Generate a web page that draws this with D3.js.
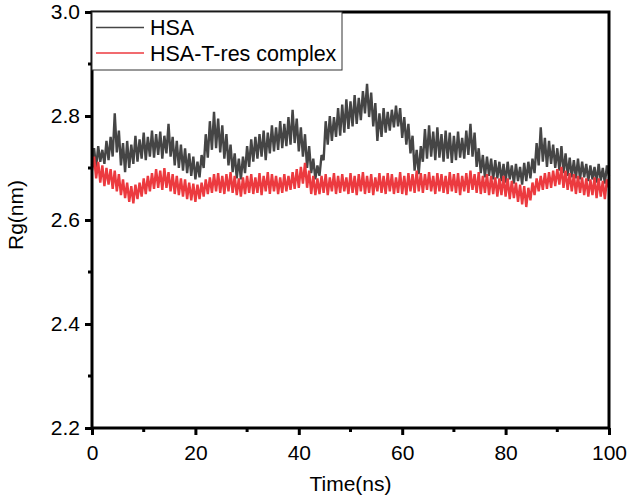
<!doctype html>
<html lang="en">
<head>
  <meta charset="utf-8">
  <title>Rg vs time</title>
<style>
 body{ margin: 0; background: #fff; }
 #chart{ width: 632px; height: 499px; }
 text{ font-family: "Liberation Sans", Arial, sans-serif; fill: #000; }
</style>
</head>
<body>
  <div id="chart"></div>
  <script src="https://d3js.org/d3.v7.min.js"></script>
  <script type="text/javascript">

    // sampling interval of the trajectories (ns)
    var timeStep = 0.4;

    var seriesNames = ['HSA', 'HSA-T-res complex'];

    // Rg (nm), one line = 4 ns
    var hsa = [
      2.705, 2.738, 2.700, 2.742, 2.712, 2.735, 2.708, 2.752, 2.715, 2.760,
      2.722, 2.805, 2.730, 2.772, 2.705, 2.748, 2.692, 2.752, 2.700, 2.745,
      2.708, 2.762, 2.712, 2.755, 2.718, 2.768, 2.715, 2.760, 2.722, 2.772,
      2.720, 2.765, 2.725, 2.770, 2.718, 2.762, 2.728, 2.785, 2.722, 2.760,
      2.705, 2.752, 2.700, 2.745, 2.695, 2.738, 2.690, 2.728, 2.685, 2.722,
      2.678, 2.712, 2.682, 2.725, 2.700, 2.765, 2.720, 2.790, 2.735, 2.808,
      2.738, 2.795, 2.730, 2.782, 2.718, 2.765, 2.705, 2.745, 2.692, 2.728,
      2.680, 2.718, 2.678, 2.722, 2.690, 2.742, 2.702, 2.755, 2.712, 2.760,
      2.718, 2.765, 2.722, 2.772, 2.715, 2.768, 2.728, 2.782, 2.732, 2.778,
      2.735, 2.790, 2.738, 2.785, 2.742, 2.798, 2.745, 2.812, 2.748, 2.795,
      2.732, 2.778, 2.722, 2.765, 2.700, 2.742, 2.690, 2.718, 2.678, 2.705,
      2.685, 2.725, 2.715, 2.790, 2.745, 2.800, 2.752, 2.798, 2.760, 2.815,
      2.762, 2.822, 2.768, 2.832, 2.775, 2.828, 2.780, 2.840, 2.785, 2.835,
      2.792, 2.848, 2.805, 2.862, 2.798, 2.845, 2.780, 2.825, 2.752, 2.805,
      2.760, 2.815, 2.768, 2.808, 2.772, 2.812, 2.778, 2.820, 2.780, 2.815,
      2.758, 2.798, 2.745, 2.785, 2.728, 2.762, 2.695, 2.735, 2.688, 2.742,
      2.712, 2.775, 2.718, 2.782, 2.722, 2.770, 2.715, 2.778, 2.720, 2.765,
      2.712, 2.772, 2.718, 2.768, 2.710, 2.762, 2.715, 2.770, 2.720, 2.758,
      2.718, 2.772, 2.725, 2.785, 2.722, 2.768, 2.702, 2.738, 2.690, 2.725,
      2.682, 2.722, 2.685, 2.718, 2.678, 2.715, 2.680, 2.712, 2.675, 2.708,
      2.672, 2.712, 2.678, 2.705, 2.670, 2.708, 2.675, 2.702, 2.668, 2.710,
      2.675, 2.712, 2.680, 2.718, 2.690, 2.748, 2.705, 2.778, 2.712, 2.758,
      2.702, 2.752, 2.708, 2.745, 2.700, 2.738, 2.695, 2.742, 2.690, 2.728,
      2.685, 2.720, 2.682, 2.715, 2.680, 2.718, 2.678, 2.712, 2.682, 2.708,
      2.675, 2.705, 2.678, 2.702, 2.672, 2.708, 2.676, 2.700, 2.670, 2.705,
      2.685
    ];

    var complex = [
      2.695, 2.722, 2.680, 2.712, 2.672, 2.705, 2.665, 2.700, 2.668, 2.698,
      2.660, 2.695, 2.655, 2.688, 2.648, 2.678, 2.642, 2.672, 2.635, 2.665,
      2.632, 2.668, 2.640, 2.672, 2.645, 2.680, 2.650, 2.685, 2.655, 2.690,
      2.660, 2.698, 2.662, 2.695, 2.658, 2.700, 2.662, 2.692, 2.655, 2.688,
      2.650, 2.685, 2.648, 2.680, 2.645, 2.678, 2.640, 2.672, 2.638, 2.670,
      2.635, 2.668, 2.640, 2.672, 2.645, 2.678, 2.650, 2.682, 2.652, 2.688,
      2.655, 2.690, 2.652, 2.685, 2.650, 2.688, 2.655, 2.692, 2.652, 2.685,
      2.648, 2.680, 2.645, 2.682, 2.650, 2.685, 2.652, 2.688, 2.650, 2.682,
      2.652, 2.690, 2.648, 2.685, 2.655, 2.692, 2.650, 2.688, 2.655, 2.685,
      2.650, 2.682, 2.652, 2.688, 2.655, 2.685, 2.658, 2.692, 2.660, 2.698,
      2.662, 2.702, 2.670, 2.710, 2.662, 2.695, 2.650, 2.685, 2.648, 2.680,
      2.650, 2.685, 2.652, 2.688, 2.648, 2.682, 2.655, 2.690, 2.650, 2.685,
      2.652, 2.688, 2.655, 2.682, 2.650, 2.690, 2.652, 2.685, 2.648, 2.688,
      2.655, 2.692, 2.650, 2.685, 2.652, 2.688, 2.648, 2.682, 2.655, 2.690,
      2.652, 2.685, 2.650, 2.690, 2.655, 2.688, 2.650, 2.682, 2.652, 2.692,
      2.650, 2.685, 2.648, 2.690, 2.655, 2.688, 2.652, 2.695, 2.655, 2.690,
      2.652, 2.688, 2.658, 2.692, 2.655, 2.685, 2.650, 2.690, 2.655, 2.688,
      2.652, 2.685, 2.650, 2.692, 2.655, 2.688, 2.652, 2.690, 2.648, 2.685,
      2.655, 2.690, 2.652, 2.695, 2.658, 2.688, 2.652, 2.692, 2.650, 2.685,
      2.652, 2.688, 2.648, 2.685, 2.650, 2.682, 2.645, 2.680, 2.648, 2.685,
      2.645, 2.680, 2.640, 2.675, 2.642, 2.672, 2.635, 2.668, 2.630, 2.665,
      2.625, 2.662, 2.638, 2.672, 2.648, 2.680, 2.655, 2.685, 2.658, 2.690,
      2.660, 2.692, 2.662, 2.695, 2.665, 2.698, 2.668, 2.702, 2.662, 2.695,
      2.658, 2.690, 2.655, 2.688, 2.650, 2.685, 2.652, 2.682, 2.648, 2.680,
      2.645, 2.678, 2.648, 2.682, 2.642, 2.680, 2.645, 2.675, 2.640, 2.678,
      2.662
    ];

    var xTicks = [0, 20, 40, 60, 80, 100];
    var xMinorTicks = [10, 30, 50, 70, 90];
    var yTicks = [2.2, 2.4, 2.6, 2.8, 3.0];
    var yMinorTicks = [2.3, 2.5, 2.7, 2.9];

    var chartWidth = 632;
    var chartHeight = 499;
    var margin = { top: 12, right: 23, bottom: 71, left: 92 };
    var colors = ['#454545', '#ec3a3f'];

    var svg = d3.select('#chart')
      .append('svg')
      .attr('width', chartWidth)
      .attr('height', chartHeight);

    var xscale = d3.scaleLinear()
      .domain([0, 100])
      .range([margin.left, chartWidth - margin.right]);

    var yscale = d3.scaleLinear()
      .domain([2.2, 3.0])
      .range([chartHeight - margin.bottom, margin.top]);

    var series = [hsa, complex].map(function(vals, i){
      return {
        name: seriesNames[i],
        color: colors[i],
        values: vals.map(function(v, j){ return { t: j * timeStep, v: v }; })
      };
    });

    var line = d3.line()
      .x(function(d){ return xscale(d.t); })
      .y(function(d){ return yscale(d.v); });

    // data lines first, frame on top
    svg.append('g').selectAll('path')
      .data(series)
      .enter()
      .append('path')
      .attr('d', function(d){ return line(d.values); })
      .attr('fill', 'none')
      .attr('stroke', function(d){ return d.color; })
      .attr('stroke-width', 2.4)
      .attr('stroke-linejoin', 'bevel');

    // x axis
    var xaxis = d3.axisBottom(xscale)
      .tickValues(xTicks)
      .tickSize(7)
      .tickPadding(10)
      .tickFormat(d3.format('d'));

    var gx = svg.append('g')
      .attr('transform', 'translate(0,' + (chartHeight - margin.bottom) + ')')
      .call(xaxis);
    gx.select('.domain').remove();
    gx.selectAll('line').attr('stroke-width', 3);
    gx.selectAll('text').attr('font-size', 21).attr('font-family', null);

    svg.append('g').selectAll('line')
      .data(xMinorTicks)
      .enter()
      .append('line')
      .attr('x1', function(d){ return xscale(d); })
      .attr('x2', function(d){ return xscale(d); })
      .attr('y1', chartHeight - margin.bottom)
      .attr('y2', chartHeight - margin.bottom + 4)
      .attr('stroke', '#000')
      .attr('stroke-width', 3);

    // y axis
    var yaxis = d3.axisLeft(yscale)
      .tickValues(yTicks)
      .tickSize(7)
      .tickPadding(5)
      .tickFormat(d3.format('.1f'));

    var gy = svg.append('g')
      .attr('transform', 'translate(' + margin.left + ',0)')
      .call(yaxis);
    gy.select('.domain').remove();
    gy.selectAll('line').attr('stroke-width', 3);
    gy.selectAll('text').attr('font-size', 21).attr('font-family', null);

    svg.append('g').selectAll('line')
      .data(yMinorTicks)
      .enter()
      .append('line')
      .attr('x1', margin.left - 4)
      .attr('x2', margin.left)
      .attr('y1', function(d){ return yscale(d); })
      .attr('y2', function(d){ return yscale(d); })
      .attr('stroke', '#000')
      .attr('stroke-width', 3);

    // frame
    svg.append('rect')
      .attr('x', margin.left)
      .attr('y', margin.top)
      .attr('width', chartWidth - margin.left - margin.right)
      .attr('height', chartHeight - margin.top - margin.bottom)
      .attr('fill', 'none')
      .attr('stroke', '#000')
      .attr('stroke-width', 3);

    // axis titles
    svg.append('text')
      .attr('x', (margin.left + chartWidth - margin.right) / 2)
      .attr('y', 491)
      .attr('text-anchor', 'middle')
      .attr('font-size', 21)
      .text('Time(ns)');

    svg.append('text')
      .attr('transform', 'translate(23,215) rotate(-90)')
      .attr('text-anchor', 'middle')
      .attr('font-size', 21)
      .text('Rg(nm)');

    // legend
    var legend = svg.append('g');
    legend.append('rect')
      .attr('x', margin.left)
      .attr('y', margin.top)
      .attr('width', 250)
      .attr('height', 58)
      .attr('fill', '#fff')
      .attr('stroke', '#333')
      .attr('stroke-width', 1);

    var items = legend.selectAll('g.item')
      .data(series)
      .enter()
      .append('g')
      .attr('class', 'item')
      .attr('transform', function(d, i){ return 'translate(0,' + (27.5 + i * 25.5) + ')'; });

    items.append('line')
      .attr('x1', 96)
      .attr('x2', 144)
      .attr('stroke', function(d){ return d.color; })
      .attr('stroke-width', 1.6);

    items.append('text')
      .attr('x', 150)
      .attr('y', 7.5)
      .attr('font-size', 21.5)
      .text(function(d){ return d.name; });

  </script>
</body>
</html>
